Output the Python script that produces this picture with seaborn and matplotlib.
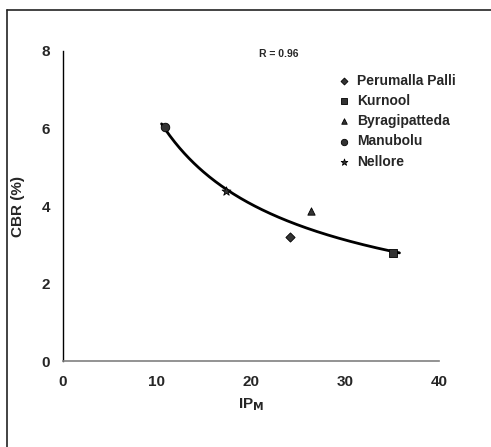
import numpy as np
import pandas as pd
import matplotlib
matplotlib.use('Agg')
import matplotlib.pyplot as plt
import seaborn as sns
from matplotlib.lines import Line2D

# values
sites = ['Perumalla Palli', 'Kurnool', 'Byragipatteda', 'Manubolu', 'Nellore']
ipm = [24.2, 35.1, 26.4, 10.9, 17.3]
cbr = [3.2, 2.78, 3.87, 6.04, 4.4]
site_markers = ['D', 's', '^', 'o', '*']
marker_sizes = [22, 30, 28, 38, 45]
x_ticks = [0, 10, 20, 30, 40]
y_ticks = [0, 2, 4, 6, 8]

data = pd.DataFrame({'Site': sites, 'IPM': ipm, 'CBR': cbr})

sns.set_style('white')
plt.rcParams['font.family'] = ['Liberation Sans', 'DejaVu Sans']
plt.rcParams['font.weight'] = 'bold'

fig = plt.figure(figsize=(4.91, 4.47), dpi=100)
ax = fig.add_axes([0.128, 0.192, 0.766, 0.694])

# power trendline y = a * x^b fitted on the points
b, log_a = np.polyfit(np.log(ipm), np.log(cbr), 1)
xs = np.linspace(10.5, 35.8, 200)
ax.plot(xs, np.exp(log_a) * xs ** b, color='black', lw=2, zorder=2)

for s, m, ms in zip(sites, site_markers, marker_sizes):
    sub = data[data['Site'] == s]
    sns.scatterplot(data=sub, x='IPM', y='CBR', marker=m, s=ms, color='#333333',
                    edgecolor='black', linewidth=0.6, ax=ax, label=s, zorder=3)

ax.set_xlim(0, 40)
ax.set_ylim(0, 8)
ax.set_xticks(x_ticks)
ax.set_yticks(y_ticks)
ax.tick_params(axis='both', direction='out', length=4, width=1, labelsize=11)
ax.tick_params(axis='y', pad=5)
ax.tick_params(axis='x', pad=6)
for lab in ax.get_xticklabels() + ax.get_yticklabels():
    lab.set_fontweight('bold')
for side in ['top', 'right']:
    ax.spines[side].set_visible(False)
ax.spines['left'].set_color('black')
ax.spines['bottom'].set_color('#808080')
ax.spines['left'].set_linewidth(1)
ax.spines['bottom'].set_linewidth(1.2)

ax.set_xlabel(r'IP$_\mathbf{M}$', fontsize=11, fontweight='bold', labelpad=5)
ax.set_ylabel('CBR (%)', fontsize=11, fontweight='bold', labelpad=12)

ax.text(0.574, 0.99, 'R = 0.96', transform=ax.transAxes, fontsize=7.5,
        fontweight='bold', ha='center', va='center')

leg = ax.legend(loc='upper left', bbox_to_anchor=(0.715, 0.945), frameon=False,
                fontsize=10, handletextpad=0.4, labelspacing=0.45, borderaxespad=0,
                markerscale=0.75, handlelength=1.0)
for t in leg.get_texts():
    t.set_fontweight('bold')

# frame lines on left and top of the figure
fig.add_artist(Line2D([0.0143, 1.0], [0.978, 0.978], color='#222222', lw=1.2))
fig.add_artist(Line2D([0.0143, 0.0143], [0.0, 0.978], color='#222222', lw=1.2))

fig.savefig('out.png', dpi=100)
